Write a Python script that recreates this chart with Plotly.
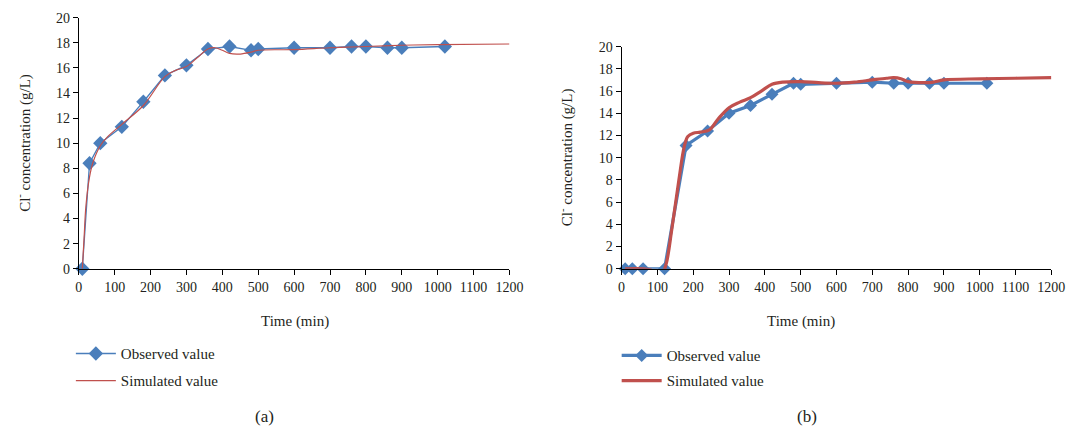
import plotly.graph_objects as go

W, H = 1086, 439

# ---- data (a)
obs_a_t = [10, 30, 60, 120, 180, 240, 300, 360, 420, 480, 500, 600, 700, 760, 800, 860, 900, 1020]
obs_a_c = [0, 8.4, 10.0, 11.3, 13.3, 15.4, 16.2, 17.5, 17.7, 17.4, 17.5, 17.6, 17.6, 17.7, 17.7, 17.6, 17.6, 17.7]
sim_a_t = [10, 15, 20, 30, 40, 60, 80, 120, 180, 240, 270, 300, 330, 360, 380, 400, 420, 450, 480, 500, 600, 700, 800, 900, 1000, 1200]
sim_a_c = [0, 2.5, 5.0, 7.3, 8.5, 9.8, 10.5, 11.5, 13.0, 15.3, 15.8, 16.1, 16.8, 17.5, 17.6, 17.4, 17.15, 17.1, 17.25, 17.4, 17.45, 17.6, 17.7, 17.8, 17.85, 17.9]

# ---- data (b)
obs_b_t = [10, 30, 60, 120, 180, 240, 300, 360, 420, 480, 500, 600, 700, 760, 800, 860, 900, 1020]
obs_b_c = [0, 0, 0, 0, 11.1, 12.4, 14.0, 14.7, 15.7, 16.7, 16.6, 16.7, 16.8, 16.7, 16.7, 16.7, 16.7, 16.7]
sim_b_t = [10, 60, 80, 100, 115, 125, 140, 160, 175, 185, 200, 220, 245, 270, 300, 330, 360, 390, 420, 450, 500, 550, 600, 650, 700, 740, 760, 780, 800, 850, 870, 900, 1000, 1100, 1200]
sim_b_c = [0, 0, -0.1, -0.4, -0.3, 0.5, 3.5, 8.0, 11.0, 11.9, 12.2, 12.3, 12.5, 13.5, 14.5, 15.0, 15.4, 16.0, 16.6, 16.8, 16.85, 16.75, 16.7, 16.8, 17.0, 17.15, 17.2, 17.1, 16.85, 16.75, 16.8, 17.0, 17.1, 17.15, 17.2]

x_ticks = list(range(0, 1201, 100))
y_ticks = list(range(0, 21, 2))

BLUE = "#4A7EBB"
RED = "#C0504D"
FONT = "Liberation Serif"
TXT = "#231F20"

def px(x):
    return x / W

def py(y):
    return 1 - y / H

fig = go.Figure()
fig.add_trace(go.Scatter(x=obs_a_t, y=obs_a_c, mode="lines+markers", name="Observed value",
                         line=dict(color=BLUE, width=1.3),
                         marker=dict(symbol="diamond", size=11, color=BLUE),
                         xaxis="x", yaxis="y", legend="legend", cliponaxis=False))
fig.add_trace(go.Scatter(x=sim_a_t, y=sim_a_c, mode="lines", name="Simulated value",
                         line=dict(color=RED, width=1.2, shape="spline"),
                         xaxis="x", yaxis="y", legend="legend2"))
fig.add_trace(go.Scatter(x=obs_b_t, y=obs_b_c, mode="lines+markers", name="Observed value",
                         line=dict(color=BLUE, width=3.2),
                         marker=dict(symbol="diamond", size=10, color=BLUE),
                         xaxis="x2", yaxis="y2", legend="legend3", cliponaxis=False))
fig.add_trace(go.Scatter(x=sim_b_t, y=sim_b_c, mode="lines", name="Simulated value",
                         line=dict(color=RED, width=3.2, shape="spline"),
                         xaxis="x2", yaxis="y2", legend="legend4", cliponaxis=False))

axis_common = dict(showgrid=False, zeroline=False, showline=True, linecolor="black", linewidth=1,
                   ticks="outside", ticklen=5, tickcolor="black", tickwidth=1,
                   tickfont=dict(family=FONT, size=14, color=TXT))


def leg(x, y):
    return dict(x=px(x), y=py(y), xanchor="left", yanchor="middle", bgcolor="rgba(0,0,0,0)",
                font=dict(family=FONT, size=15, color=TXT), itemwidth=40)


fig.update_layout(
    width=W, height=H, margin=dict(l=0, r=0, t=0, b=0),
    paper_bgcolor="white", plot_bgcolor="white",
    font=dict(family=FONT, size=14, color=TXT),
    xaxis=dict(domain=[px(76), px(514)], range=[0, 1200], tickvals=x_ticks, anchor="y", **axis_common),
    yaxis=dict(domain=[py(271), py(11)], range=[0, 20], tickvals=y_ticks, anchor="x", **axis_common),
    xaxis2=dict(domain=[px(628), px(1065)], range=[0, 1200], tickvals=x_ticks, anchor="y2", **axis_common),
    yaxis2=dict(domain=[py(271), py(41)], range=[0, 20], tickvals=y_ticks, anchor="x2", **axis_common),
    legend=leg(68, 359),
    legend2=leg(68, 387),
    legend3=leg(623, 361),
    legend4=leg(623, 387),
    showlegend=True,
)

ann = [
    dict(text="Time (min)", x=px(296), y=py(326)),
    dict(text="Time (min)", x=px(810), y=py(326)),
    dict(text="(a)", x=px(265), y=py(424), size=17),
    dict(text="(b)", x=px(817), y=py(424), size=17),
    dict(text="Cl<sup>-</sup> concentration (g/L)", x=px(20), y=py(141), angle=-90),
    dict(text="Cl<sup>-</sup> concentration (g/L)", x=px(572), y=py(156), angle=-90),
]
for a in ann:
    fig.add_annotation(text=a["text"], x=a["x"], y=a["y"], xref="paper", yref="paper",
                       showarrow=False, xanchor="center", yanchor="middle",
                       textangle=a.get("angle", 0),
                       font=dict(family=FONT, size=a.get("size", 15), color=TXT))

fig.write_html("out.html")
